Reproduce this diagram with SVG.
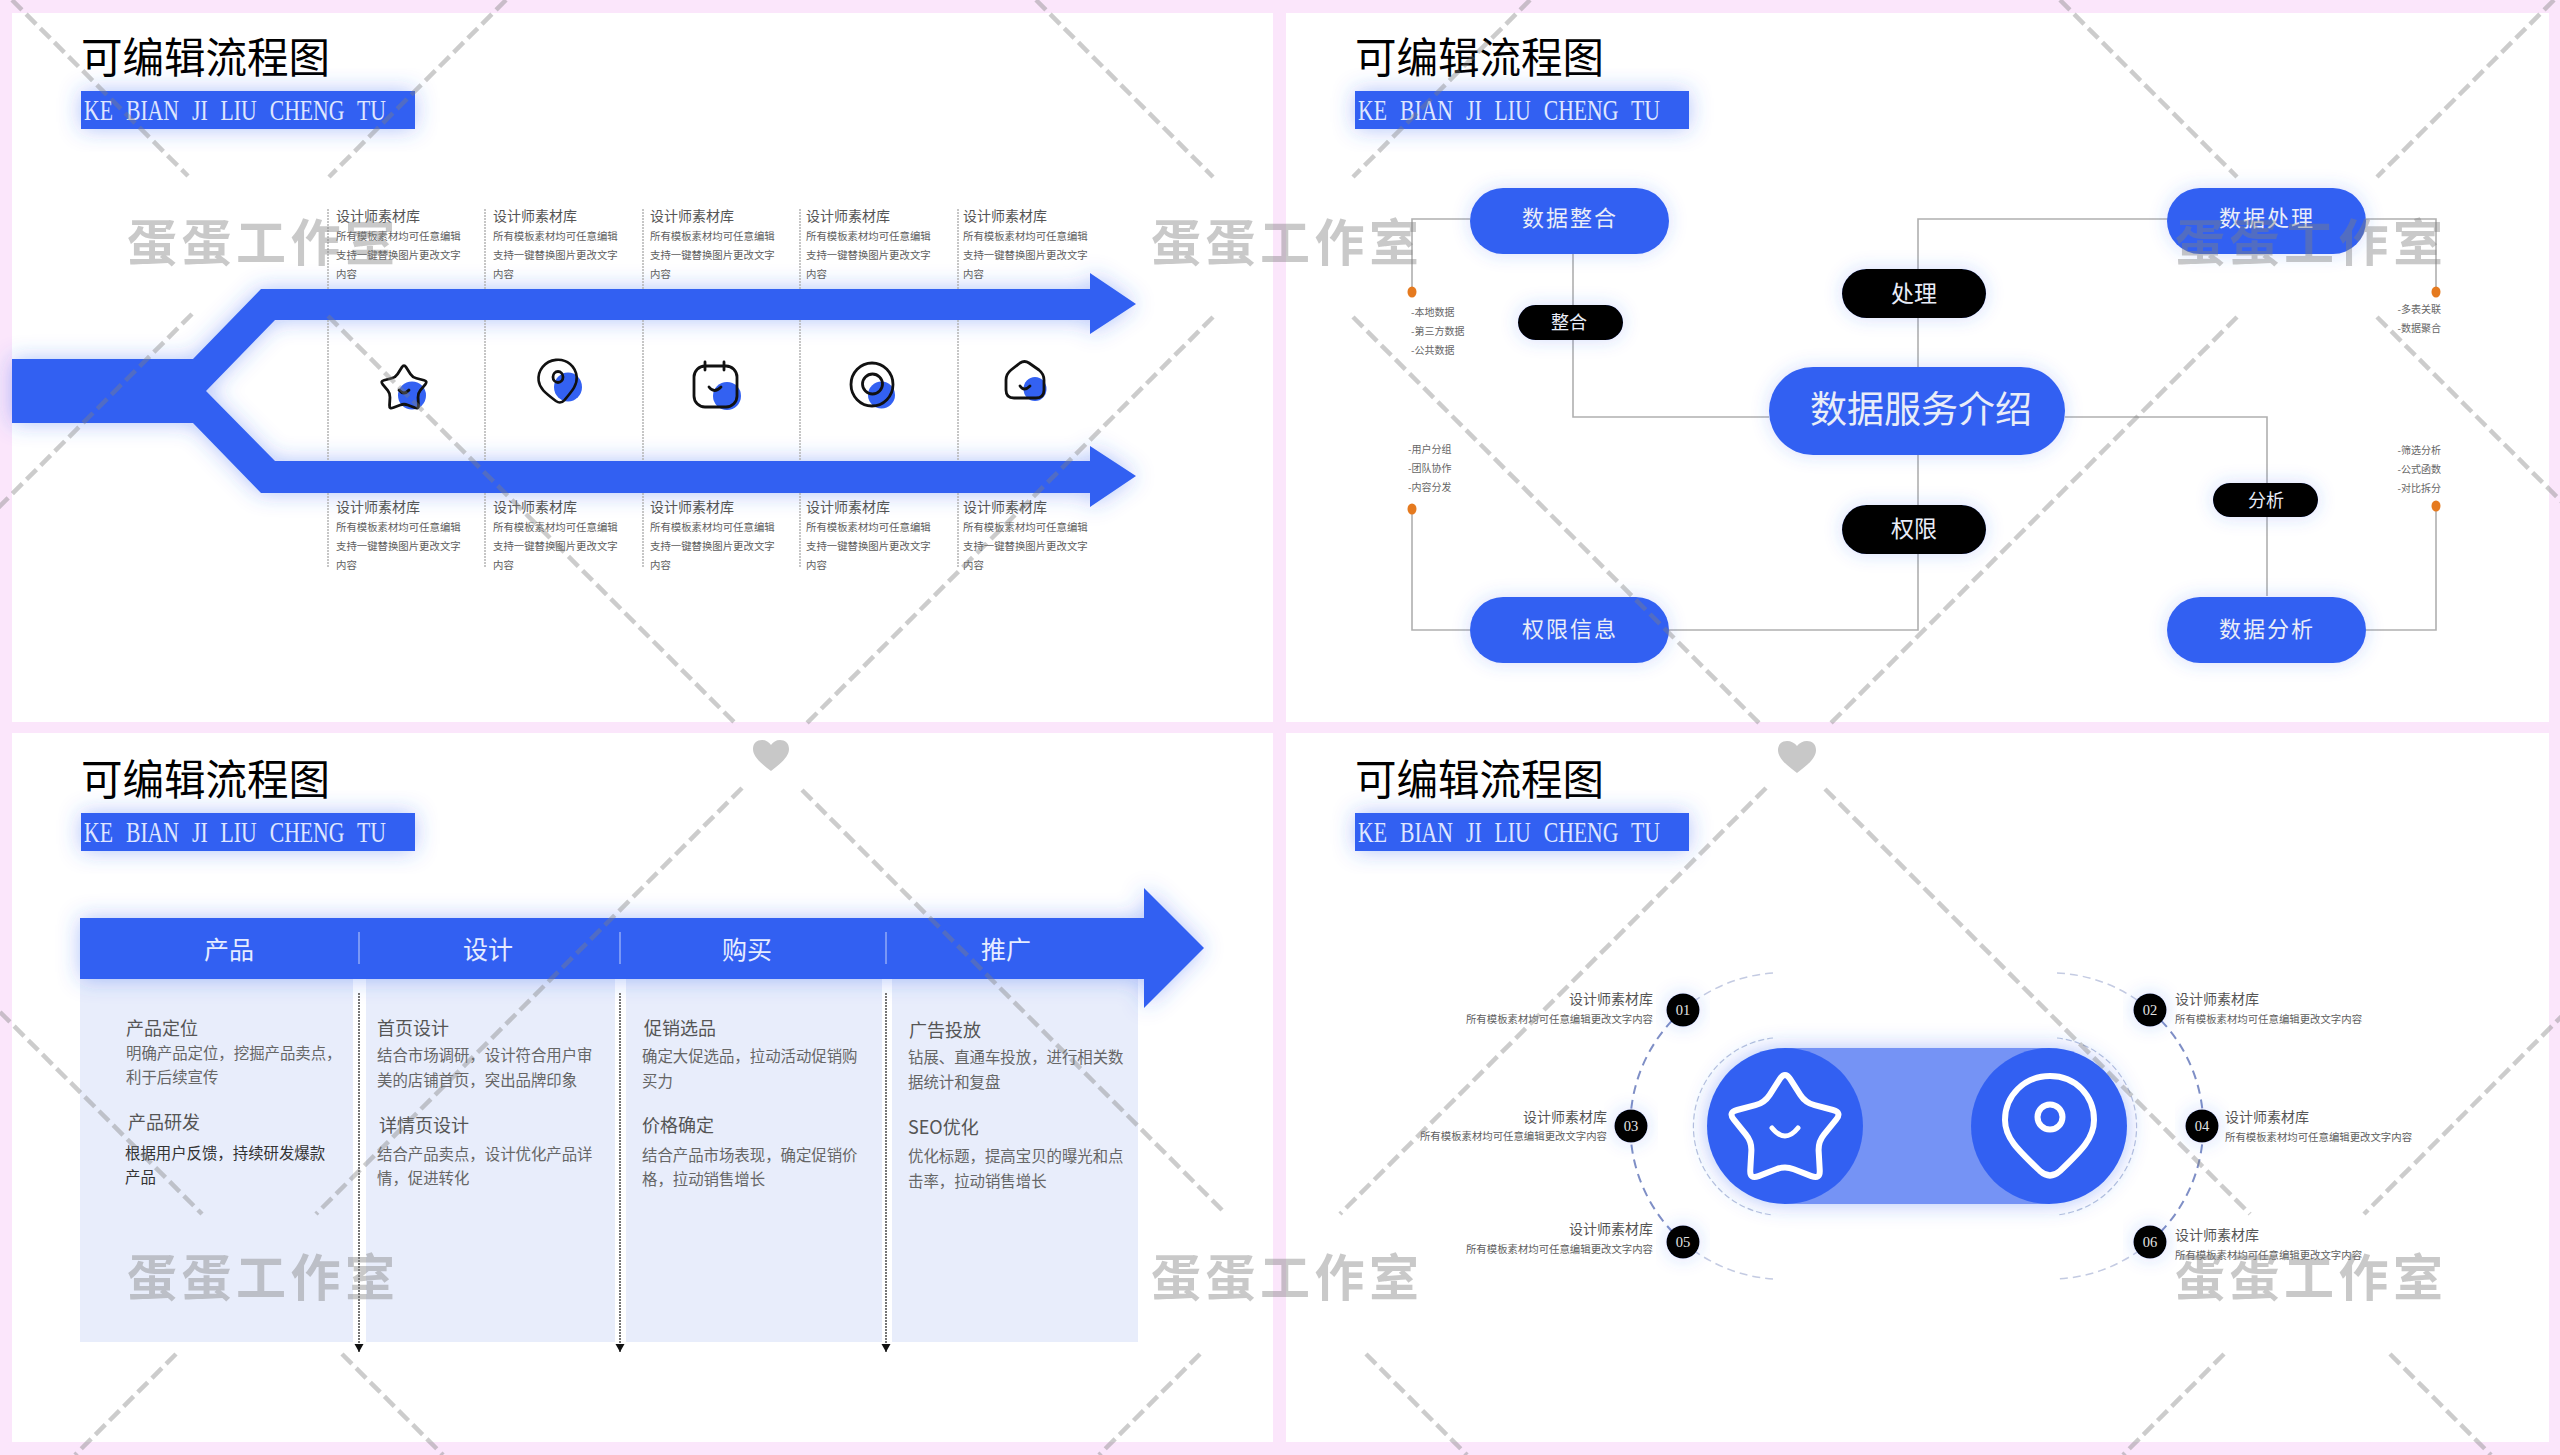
<svg xmlns="http://www.w3.org/2000/svg" width="2560" height="1455" viewBox="0 0 2560 1455">
<defs>
<style>
text{font-family:"Noto Sans CJK SC","Noto Sans",sans-serif}
.ttl{font-size:41.500px;fill:#000}
.en{font-family:"Liberation Serif",serif;font-size:29px;word-spacing:10px;fill:#dfe6ff}
.h14{font-size:14px;fill:#555}
.s10{font-size:10.400px;fill:#5e5e5e}
.d10{font-size:10px;fill:#666}
.sep{stroke:#b4b4b4;stroke-width:1.500;stroke-dasharray:2 1;fill:none}
.con{stroke:#b0b0b0;stroke-width:1.600;fill:none}
.blue{fill:#3361f2}
.w{fill:#e9edf8;text-anchor:middle}
.hd{font-size:25px;fill:#e6ecff;text-anchor:middle}
.h18{font-size:18px;fill:#555}
.b15{font-size:15.400px;fill:#666}
.num{font-family:"Liberation Serif",serif;font-size:14.500px;fill:#e4e4e4;text-anchor:middle}
.ic{fill:none;stroke:#111;stroke-width:2.800;stroke-linecap:round;stroke-linejoin:round}
.wi{fill:none;stroke:#fff;stroke-width:6;stroke-linecap:round;stroke-linejoin:round}
.wm{font-size:50px;font-weight:700;letter-spacing:4.500px;fill:#808080;opacity:.42}
.dash{stroke:#808080;stroke-opacity:.4;stroke-width:4.500;stroke-dasharray:14 6;fill:none}
.arc1{stroke:#7f8fc6;stroke-width:2;stroke-dasharray:9 6;fill:none}
.arc2{stroke:#c4cbe2;stroke-width:1.500;stroke-dasharray:8 5;fill:none}
.arc3{stroke:#b9c2dd;stroke-width:1.200;stroke-dasharray:6 3;fill:none}
.dot{fill:#e57a1f}
.r{text-anchor:end}
</style>
<filter id="glow" x="-30%" y="-60%" width="160%" height="220%"><feDropShadow dx="0" dy="0" stdDeviation="11" flood-color="#3361f2" flood-opacity=".38"/></filter>
<filter id="glowS" x="-30%" y="-60%" width="160%" height="220%"><feDropShadow dx="0" dy="0" stdDeviation="9" flood-color="#3361f2" flood-opacity=".22"/></filter>
<path id="star" d="M-4.250-43.400Q0-50 4.250-43.400L12.750-30.100Q17-23.500 24.650-21.500L39.950-17.500Q47.600-15.500 42.600-9.400L32.600 2.900Q27.600 9 28.050 16.900L28.950 32.600Q29.400 40.500 22.050 37.600L7.350 31.900Q0 29-7.350 31.900L-22.050 37.600Q-29.400 40.500-28.950 32.600L-28.050 16.900Q-27.600 9-32.600 2.900L-42.600-9.400Q-47.600-15.500-39.950-17.500L-24.650-21.500Q-17-23.500-12.750-30.100Z"/>
<path id="pin" d="M0-47C26-47 44-27 44-3C44 15 32 27 10 48Q0 57-10 48C-32 27-45 15-45-3C-45-27-26-47 0-47Z"/>
<marker id="tri" markerUnits="userSpaceOnUse" markerWidth="9" markerHeight="10" refX="8" refY="5" orient="auto"><path d="M0 0.500L8 5L0 9.500Z" fill="#111"/></marker>
</defs>
<rect width="2560" height="1455" fill="#fbe6fb"/>
<g id="panels" fill="#fff">
<rect x="12" y="13" width="1261" height="709"/>
<rect x="1286" y="13" width="1263" height="709"/>
<rect x="12" y="733" width="1261" height="709"/>
<rect x="1286" y="733" width="1263" height="709"/>
</g>
<g id="titles">
<text class="ttl" x="81" y="73">可编辑流程图</text>
<rect class="blue" x="81" y="91" width="334" height="38" filter="url(#glow)"/>
<text class="en" x="84" y="120" textLength="302" lengthAdjust="spacingAndGlyphs">KE BIAN JI LIU CHENG TU</text>
<text class="ttl" x="1355" y="73">可编辑流程图</text>
<rect class="blue" x="1355" y="91" width="334" height="38" filter="url(#glow)"/>
<text class="en" x="1358" y="120" textLength="302" lengthAdjust="spacingAndGlyphs">KE BIAN JI LIU CHENG TU</text>
<text class="ttl" x="81" y="795">可编辑流程图</text>
<rect class="blue" x="81" y="813" width="334" height="38" filter="url(#glow)"/>
<text class="en" x="84" y="842" textLength="302" lengthAdjust="spacingAndGlyphs">KE BIAN JI LIU CHENG TU</text>
<text class="ttl" x="1355" y="795">可编辑流程图</text>
<rect class="blue" x="1355" y="813" width="334" height="38" filter="url(#glow)"/>
<text class="en" x="1358" y="842" textLength="302" lengthAdjust="spacingAndGlyphs">KE BIAN JI LIU CHENG TU</text>
</g>

<g id="panel1">
<g id="arrow1"><polygon class="blue" filter="url(#glow)" points="12,359 193,359 261,289 1090,289 1090,273 1136,304 1090,334 1090,320 275,320 206,391 275,461 1090,461 1090,446 1136,476 1090,507 1090,493 261,493 193,423 12,423"/></g>
<g id="separators1">
<path class="sep" d="M328 209V289M328 320V461M328 493V567M485 209V289M485 320V461M485 493V567M643 209V289M643 320V461M643 493V567M800 209V289M800 320V461M800 493V567M958 209V289M958 320V461M958 493V567"/>
</g>
<g id="col1-top"><text class="h14" x="336" y="221">设计师素材库</text><text class="s10" x="336" y="240">所有模板素材均可任意编辑</text><text class="s10" x="336" y="259">支持一键替换图片更改文字</text><text class="s10" x="336" y="278">内容</text></g>
<g id="col2-top"><text class="h14" x="493" y="221">设计师素材库</text><text class="s10" x="493" y="240">所有模板素材均可任意编辑</text><text class="s10" x="493" y="259">支持一键替换图片更改文字</text><text class="s10" x="493" y="278">内容</text></g>
<g id="col3-top"><text class="h14" x="650" y="221">设计师素材库</text><text class="s10" x="650" y="240">所有模板素材均可任意编辑</text><text class="s10" x="650" y="259">支持一键替换图片更改文字</text><text class="s10" x="650" y="278">内容</text></g>
<g id="col4-top"><text class="h14" x="806" y="221">设计师素材库</text><text class="s10" x="806" y="240">所有模板素材均可任意编辑</text><text class="s10" x="806" y="259">支持一键替换图片更改文字</text><text class="s10" x="806" y="278">内容</text></g>
<g id="col5-top"><text class="h14" x="963" y="221">设计师素材库</text><text class="s10" x="963" y="240">所有模板素材均可任意编辑</text><text class="s10" x="963" y="259">支持一键替换图片更改文字</text><text class="s10" x="963" y="278">内容</text></g>
<g id="col1-bottom"><text class="h14" x="336" y="512">设计师素材库</text><text class="s10" x="336" y="531">所有模板素材均可任意编辑</text><text class="s10" x="336" y="550">支持一键替换图片更改文字</text><text class="s10" x="336" y="569">内容</text></g>
<g id="col2-bottom"><text class="h14" x="493" y="512">设计师素材库</text><text class="s10" x="493" y="531">所有模板素材均可任意编辑</text><text class="s10" x="493" y="550">支持一键替换图片更改文字</text><text class="s10" x="493" y="569">内容</text></g>
<g id="col3-bottom"><text class="h14" x="650" y="512">设计师素材库</text><text class="s10" x="650" y="531">所有模板素材均可任意编辑</text><text class="s10" x="650" y="550">支持一键替换图片更改文字</text><text class="s10" x="650" y="569">内容</text></g>
<g id="col4-bottom"><text class="h14" x="806" y="512">设计师素材库</text><text class="s10" x="806" y="531">所有模板素材均可任意编辑</text><text class="s10" x="806" y="550">支持一键替换图片更改文字</text><text class="s10" x="806" y="569">内容</text></g>
<g id="col5-bottom"><text class="h14" x="963" y="512">设计师素材库</text><text class="s10" x="963" y="531">所有模板素材均可任意编辑</text><text class="s10" x="963" y="550">支持一键替换图片更改文字</text><text class="s10" x="963" y="569">内容</text></g>
<g id="icon-star"><ellipse class="blue" cx="412" cy="395.500" rx="14" ry="14"/><use href="#star" class="ic" transform="translate(404 389) scale(.5)" style="stroke-width:5.600"/><path class="ic" d="M399 390Q404 396 409 390"/></g>
<g id="icon-pin"><ellipse class="blue" cx="568" cy="387" rx="14" ry="14.500"/><use href="#pin" class="ic" transform="translate(558 380) scale(.43 .43) rotate(-6)" style="stroke-width:6"/><ellipse class="ic" cx="558" cy="377" rx="5" ry="5.500"/></g>
<g id="icon-calendar"><ellipse class="blue" cx="727" cy="396" rx="14" ry="14"/><rect class="ic" x="694" y="366" width="43" height="41" rx="11"/><path class="ic" d="M705 362V370M724 362V370M709 387Q714 394 721 387"/></g>
<g id="icon-target"><ellipse class="blue" cx="881.500" cy="395" rx="13.500" ry="13.500"/><ellipse class="ic" cx="872" cy="384.500" rx="21" ry="21.500"/><ellipse class="ic" cx="872.500" cy="384" rx="10" ry="10"/></g>
<g id="icon-home"><ellipse class="blue" cx="1035" cy="389" rx="11.500" ry="12"/><path class="ic" d="M1020 363Q1024.500 360 1029 363L1039 370Q1044 374 1044 380V390Q1044 398 1036 398H1014Q1006 398 1006 390V380Q1006 374 1011 370Z"/><path class="ic" d="M1020 386Q1024 392 1030 386"/></g>
</g>

<g id="connectors">
<path class="con" d="M1470 219H1412V292"/>
<path class="con" d="M1573 254V417H1769"/>
<path class="con" d="M1412 509V630H1470"/>
<path class="con" d="M1669 630H1918V455"/>
<path class="con" d="M1918 367V219H2168"/>
<path class="con" d="M2366 219H2436V292"/>
<path class="con" d="M2065 417H2267V596"/>
<path class="con" d="M2436 506V630H2366"/>
</g>
<g id="dots"><ellipse class="dot" cx="1412" cy="292" rx="4.500" ry="5.500"/><ellipse class="dot" cx="1412" cy="509" rx="4.500" ry="5.500"/><ellipse class="dot" cx="2436" cy="292" rx="4.500" ry="5.500"/><ellipse class="dot" cx="2436" cy="506" rx="4.500" ry="5.500"/></g>
<g id="node-center"><rect class="blue" filter="url(#glowS)" x="1769" y="367" width="296" height="88" rx="44"/><text class="w" x="1921" y="423" font-size="37">数据服务介绍</text></g>
<g id="node-zhenghe-main"><rect class="blue" filter="url(#glowS)" x="1470" y="188" width="199" height="66" rx="33"/><text class="w" x="1570" y="226" font-size="22" letter-spacing="2">数据整合</text></g>
<g id="node-chuli-main"><rect class="blue" filter="url(#glowS)" x="2167" y="188" width="199" height="66" rx="33"/><text class="w" x="2267" y="226" font-size="22" letter-spacing="2">数据处理</text></g>
<g id="node-quanxian-main"><rect class="blue" filter="url(#glowS)" x="1470" y="597" width="199" height="66" rx="33"/><text class="w" x="1570" y="637" font-size="22" letter-spacing="2">权限信息</text></g>
<g id="node-fenxi-main"><rect class="blue" filter="url(#glowS)" x="2167" y="597" width="199" height="66" rx="33"/><text class="w" x="2267" y="637" font-size="22" letter-spacing="2">数据分析</text></g>
<g id="node-zhenghe"><rect fill="#000" filter="url(#glowS)" x="1518" y="305" width="105" height="35" rx="17.500"/><text class="w" x="1569" y="329" font-size="18">整合</text></g>
<g id="node-chuli"><rect fill="#000" filter="url(#glowS)" x="1842" y="269" width="144" height="49" rx="24.500"/><text class="w" x="1914" y="302" font-size="23">处理</text></g>
<g id="node-quanxian"><rect fill="#000" filter="url(#glowS)" x="1842" y="505" width="144" height="49" rx="24.500"/><text class="w" x="1914" y="537" font-size="23">权限</text></g>
<g id="node-fenxi"><rect fill="#000" filter="url(#glowS)" x="2213" y="483" width="105" height="34" rx="17"/><text class="w" x="2266" y="507" font-size="18">分析</text></g>
<g id="notes">
<text class="d10" x="1411" y="316">-本地数据</text><text class="d10" x="1411" y="335">-第三方数据</text><text class="d10" x="1411" y="354">-公共数据</text>
<text class="d10" x="1408" y="453">-用户分组</text><text class="d10" x="1408" y="472">-团队协作</text><text class="d10" x="1408" y="491">-内容分发</text>
<text class="d10 r" x="2441" y="313">-多表关联</text><text class="d10 r" x="2441" y="332">-数据聚合</text>
<text class="d10 r" x="2441" y="454">-筛选分析</text><text class="d10 r" x="2441" y="473">-公式函数</text><text class="d10 r" x="2441" y="492">-对比拆分</text>
</g>

<g id="panel3">
<rect x="80" y="979" width="1058" height="363" fill="#e8edfb"/>
<g fill="#fff"><rect x="353" y="979" width="13" height="363"/><rect x="615" y="979" width="11" height="363"/><rect x="882" y="979" width="10" height="363"/></g>
<polygon class="blue" filter="url(#glow)" points="80,918 1144,918 1144,888 1204,948 1144,1008 1144,979 80,979"/>
<path d="M359 932V964M620 932V964M886 932V964" stroke="#a9bcf8" stroke-width="1.200" fill="none"/>
<g fill="none" stroke="#666" stroke-width="1.800" stroke-dasharray="2 1" marker-end="url(#tri)"><path d="M359 993V1352"/><path d="M620 993V1352"/><path d="M886 993V1352"/></g>
<g id="step-product"><text class="hd" x="229" y="958.500">产品</text><text class="h18" x="126" y="1034.500">产品定位</text><text class="b15" x="126" y="1059">明确产品定位，挖掘产品卖点，</text><text class="b15" x="126" y="1083">利于后续宣传</text><text class="h18" x="128" y="1128.500">产品研发</text><text class="b15" style="fill:#333" x="125" y="1159">根据用户反馈，持续研发爆款</text><text class="b15" style="fill:#333" x="125" y="1183">产品</text></g>
<g id="step-design"><text class="hd" x="488" y="958.500">设计</text><text class="h18" x="377" y="1034.500">首页设计</text><text class="b15" x="377" y="1061">结合市场调研，设计符合用户审</text><text class="b15" x="377" y="1086">美的店铺首页，突出品牌印象</text><text class="h18" x="379" y="1131.500">详情页设计</text><text class="b15" x="377" y="1160">结合产品卖点，设计优化产品详</text><text class="b15" x="377" y="1184">情，促进转化</text></g>
<g id="step-buy"><text class="hd" x="747" y="958.500">购买</text><text class="h18" x="644" y="1034.500">促销选品</text><text class="b15" x="642" y="1062">确定大促选品，拉动活动促销购</text><text class="b15" x="642" y="1087">买力</text><text class="h18" x="642" y="1131.500">价格确定</text><text class="b15" x="642" y="1161">结合产品市场表现，确定促销价</text><text class="b15" x="642" y="1185">格，拉动销售增长</text></g>
<g id="step-promo"><text class="hd" x="1006" y="958.500">推广</text><text class="h18" x="909" y="1036.500">广告投放</text><text class="b15" x="908" y="1063">钻展、直通车投放，进行相关数</text><text class="b15" x="908" y="1088">据统计和复盘</text><text font-size="18" fill="#555" x="908" y="1133.500">SEO优化</text><text class="b15" x="908" y="1162">优化标题，提高宝贝的曝光和点</text><text class="b15" x="908" y="1187">击率，拉动销售增长</text></g>
</g>

<g id="panel4">
<g id="arcs">
<path class="arc1" d="M1683 1010A154 154 0 0 0 1683 1242"/>
<path class="arc2" d="M1773 973A154 154 0 0 0 1683 1010M1683 1242A154 154 0 0 0 1773 1279"/>
<path class="arc1" d="M2150 1010A153 153 0 0 1 2150 1242"/>
<path class="arc2" d="M2057 973A153 153 0 0 1 2150 1010M2150 1242A153 153 0 0 1 2057 1279"/>
<path class="arc3" d="M1773 1038A89 89 0 0 0 1773 1215"/>
<path class="arc3" d="M2057 1038A89 89 0 0 1 2057 1215"/>
</g>
<g id="capsule" filter="url(#glow)"><rect x="1785" y="1048" width="264" height="156" fill="#7593f5"/><circle class="blue" cx="1785" cy="1126" r="78"/><circle class="blue" cx="2049" cy="1126" r="78"/></g>
<g id="big-star"><use href="#star" class="wi" transform="translate(1785 1131) scale(1.200)" style="stroke-width:5"/><path class="wi" style="stroke-width:5" d="M1772 1128Q1785 1144 1798 1128"/></g>
<g id="big-pin"><use href="#pin" class="wi" transform="translate(2050 1123)" /><circle class="wi" cx="2050" cy="1117" r="12.500"/></g>
<g id="item01"><circle cx="1683" cy="1010" r="16.500" filter="url(#glowS)"/><text class="num" x="1683" y="1015">01</text><text class="h14 r" x="1653" y="1004">设计师素材库</text><text class="s10 r" x="1653" y="1023">所有模板素材均可任意编辑更改文字内容</text></g>
<g id="item02"><circle cx="2150" cy="1010" r="16.500" filter="url(#glowS)"/><text class="num" x="2150" y="1015">02</text><text class="h14" x="2175" y="1004">设计师素材库</text><text class="s10" x="2175" y="1023">所有模板素材均可任意编辑更改文字内容</text></g>
<g id="item03"><circle cx="1631" cy="1126" r="16.500" filter="url(#glowS)"/><text class="num" x="1631" y="1131">03</text><text class="h14 r" x="1607" y="1122">设计师素材库</text><text class="s10 r" x="1607" y="1140">所有模板素材均可任意编辑更改文字内容</text></g>
<g id="item04"><circle cx="2202" cy="1126" r="16.500" filter="url(#glowS)"/><text class="num" x="2202" y="1131">04</text><text class="h14" x="2225" y="1122">设计师素材库</text><text class="s10" x="2225" y="1141">所有模板素材均可任意编辑更改文字内容</text></g>
<g id="item05"><circle cx="1683" cy="1242" r="16.500" filter="url(#glowS)"/><text class="num" x="1683" y="1247">05</text><text class="h14 r" x="1653" y="1234">设计师素材库</text><text class="s10 r" x="1653" y="1253">所有模板素材均可任意编辑更改文字内容</text></g>
<g id="item06"><circle cx="2150" cy="1242" r="16.500" filter="url(#glowS)"/><text class="num" x="2150" y="1247">06</text><text class="h14" x="2175" y="1240">设计师素材库</text><text class="s10" x="2175" y="1259">所有模板素材均可任意编辑更改文字内容</text></g>
</g>

<g id="watermark-lines">
<path class="dash" d="M12 0L188 176M328 316L737 725M802 790L1226 1214M1366 1354L1467 1455"/>
<path class="dash" d="M506 0L329 177M192 314L-6 512"/>
<path class="dash" d="M1530 0L1353 177M1213 317L805 725M742 788L316 1214M176 1354L75 1455"/>
<path class="dash" d="M1036 0L1213 177M1353 317L1761 725M1825 789L2250 1214M2390 1354L2491 1455"/>
<path class="dash" d="M2554 0L2377 177M2237 317L1829 725M1766 788L1340 1214M1200 1354L1099 1455"/>
<path class="dash" d="M2060 0L2237 177M2377 317L2566 506"/>
<path class="dash" d="M0 1012L202 1214M342 1354L443 1455"/>
<path class="dash" d="M2566 1012L2364 1214M2224 1354L2123 1455"/>
</g>
<g id="hearts" fill="#c8c8c8">
<path d="M771 771C762 764 753 757 753 749C753 743 757 740 762 740C766 740 769 742 771 745C773 742 776 740 780 740C785 740 789 743 789 749C789 757 780 764 771 771Z"/>
<path d="M1797 773C1788 766 1778 759 1778 750C1778 744 1782 741 1787 741C1791 741 1795 743 1797 746C1799 743 1803 741 1807 741C1812 741 1816 744 1816 750C1816 759 1806 766 1797 773Z"/>
</g>
<g id="watermarks">
<text class="wm" x="127" y="261">蛋蛋工作室</text>
<text class="wm" x="1151" y="261">蛋蛋工作室</text>
<text class="wm" x="2175" y="261">蛋蛋工作室</text>
<text class="wm" x="127" y="1296">蛋蛋工作室</text>
<text class="wm" x="1151" y="1296">蛋蛋工作室</text>
<text class="wm" x="2175" y="1296">蛋蛋工作室</text>
</g>
</svg>
